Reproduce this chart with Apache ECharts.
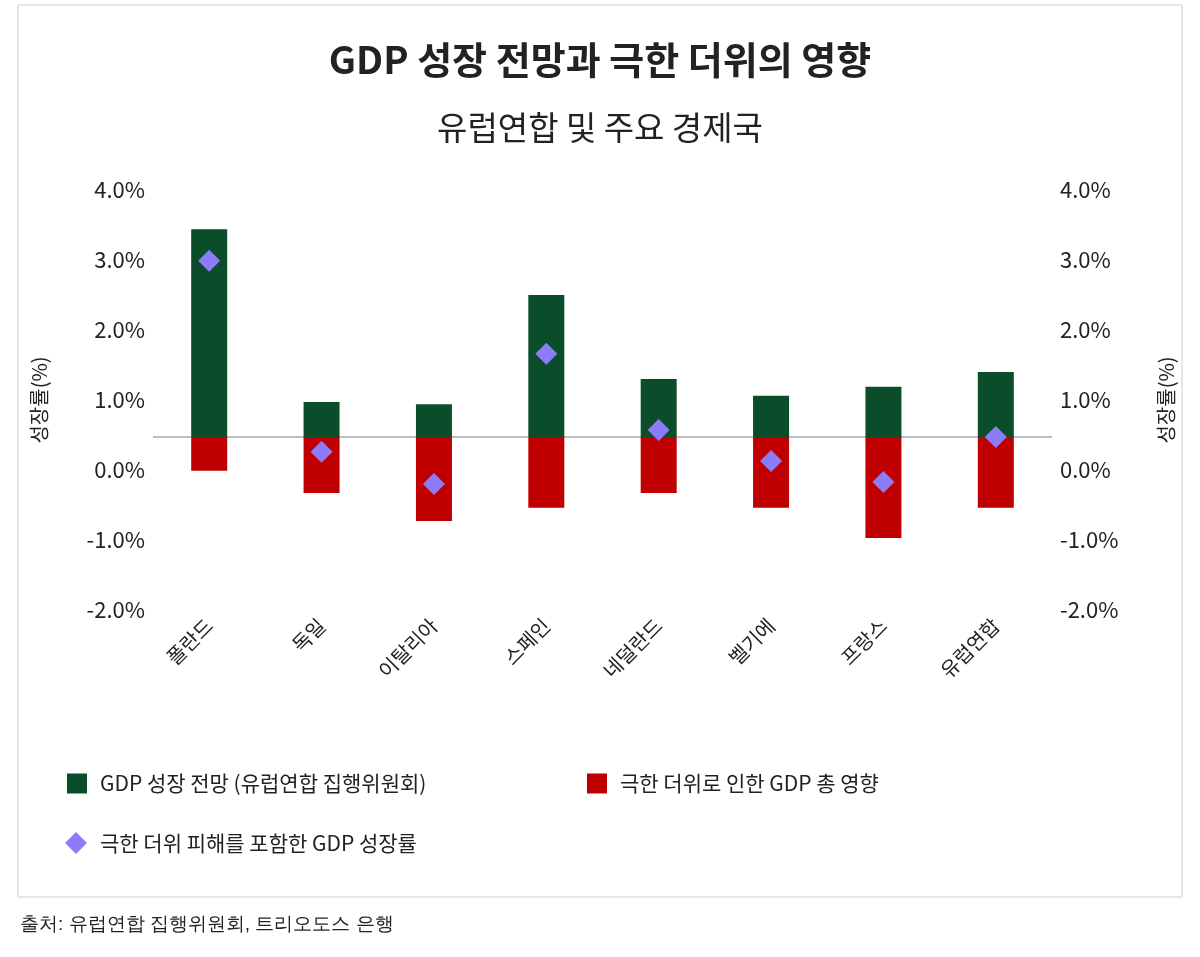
<!DOCTYPE html>
<html><head><meta charset="utf-8">
<script src="https://cdn.jsdelivr.net/npm/echarts@6/dist/echarts.min.js"></script>
<style>html,body{margin:0;padding:0;background:#fff}#chart{width:1200px;height:957px}</style>
</head><body><div id="chart"></div>
<script>
var countries = ['폴란드', '독일', '이탈리아', '스페인', '네덜란드', '벨기에', '프랑스', '유럽연합'];
var baseLine = 0.47;
// 막대 끝 값 (%)
var gdpTop = [3.44, 0.97, 0.94, 2.5, 1.3, 1.06, 1.19, 1.4];
var heatBottom = [-0.01, -0.33, -0.73, -0.54, -0.33, -0.54, -0.97, -0.54];
var withHeat = [2.99, 0.26, -0.2, 1.66, 0.57, 0.13, -0.17, 0.47];

var FONT = '"Noto Sans CJK KR", "Noto Sans", sans-serif';
var chart = echarts.init(document.getElementById('chart'));

// 기준선에서 값까지 그리는 막대
function rangeBar(ends, color) {
	return function(params, api) {
		var i = api.value(0);
		var p1 = api.coord([i, baseLine]);
		var p2 = api.coord([i, ends[i]]);
		var w = 36;
		return {
			type: 'rect',
			shape: { x: p1[0] - w / 2, y: Math.min(p1[1], p2[1]), width: w, height: Math.abs(p1[1] - p2[1]) },
			style: { fill: color }
		};
	};
}

var yAxisBase = {
	type: 'value', min: -2, max: 4, interval: 1,
	splitLine: { show: false }, axisLine: { show: false }, axisTick: { show: false },
	axisLabel: { formatter: function(v) { return v.toFixed(1) + '%'; }, fontSize: 22, color: '#222', fontFamily: FONT },
	name: '성장률(%)', nameLocation: 'middle',
	nameTextStyle: { fontSize: 20, color: '#222', fontFamily: FONT }
};

var legendText = { fontSize: 21, color: '#222', padding: [0, 0, 0, 8] };

chart.setOption({
	textStyle: { fontFamily: FONT },
	graphic: [
		{ type: 'rect', shape: { x: 18, y: 5, width: 1164, height: 892 }, style: { fill: 'none', stroke: '#cfcfcf', lineWidth: 1 } },
		{ type: 'text', left: 20, top: 915, style: { text: '출처: 유럽연합 집행위원회, 트리오도스 은행', fontSize: 19, fill: '#222', font: '19px ' + FONT } }
	],
	title: [
		{ text: 'GDP 성장 전망과 극한 더위의 영향', left: 'center', top: 36, textStyle: { fontSize: 38, fontWeight: 'bold', color: '#222', fontFamily: FONT } },
		{ text: '유럽연합 및 주요 경제국', left: 'center', top: 106, textStyle: { fontSize: 33, fontWeight: 'normal', color: '#222', fontFamily: FONT } }
	],
	grid: { left: 153, right: 148, top: 190, bottom: 347 },
	legend: [
		{ data: [{ name: 'GDP 성장 전망 (유럽연합 집행위원회)', icon: 'rect' }], left: 62, top: 768, itemWidth: 20, itemHeight: 20, textStyle: legendText },
		{ data: [{ name: '극한 더위로 인한 GDP 총 영향', icon: 'rect' }], left: 582, top: 768, itemWidth: 20, itemHeight: 20, textStyle: legendText },
		{ data: [{ name: '극한 더위 피해를 포함한 GDP 성장률', icon: 'diamond' }], left: 60, top: 827, itemWidth: 22, itemHeight: 22, textStyle: legendText }
	],
	xAxis: {
		type: 'category', data: countries,
		axisLine: { show: false }, axisTick: { show: false },
		axisLabel: { rotate: 45, fontSize: 20, color: '#222', margin: 12, interval: 0 }
	},
	yAxis: [
		Object.assign({}, yAxisBase, { position: 'left', nameGap: 104 }),
		Object.assign({}, yAxisBase, { position: 'right', nameGap: 104 })
	],
	series: [
		{ name: 'GDP 성장 전망 (유럽연합 집행위원회)', type: 'custom', itemStyle: { color: '#0b4d2a' },
			renderItem: rangeBar(gdpTop, '#0b4d2a'), data: gdpTop.map(function(v, i) { return [i, v]; }), z: 2 },
		{ name: '극한 더위로 인한 GDP 총 영향', type: 'custom', itemStyle: { color: '#c00000' },
			renderItem: rangeBar(heatBottom, '#c00000'), data: heatBottom.map(function(v, i) { return [i, v]; }), z: 2 },
		{ name: '극한 더위 피해를 포함한 GDP 성장률', type: 'scatter', symbol: 'diamond', symbolSize: 22,
			itemStyle: { color: '#8d7cf7', opacity: 1 }, data: withHeat, z: 5,
			markLine: { silent: true, symbol: 'none', label: { show: false }, lineStyle: { color: '#bdbdbd', type: 'solid', width: 2 }, data: [{ yAxis: baseLine }], z: 1 } }
	]
});
</script></body></html>
